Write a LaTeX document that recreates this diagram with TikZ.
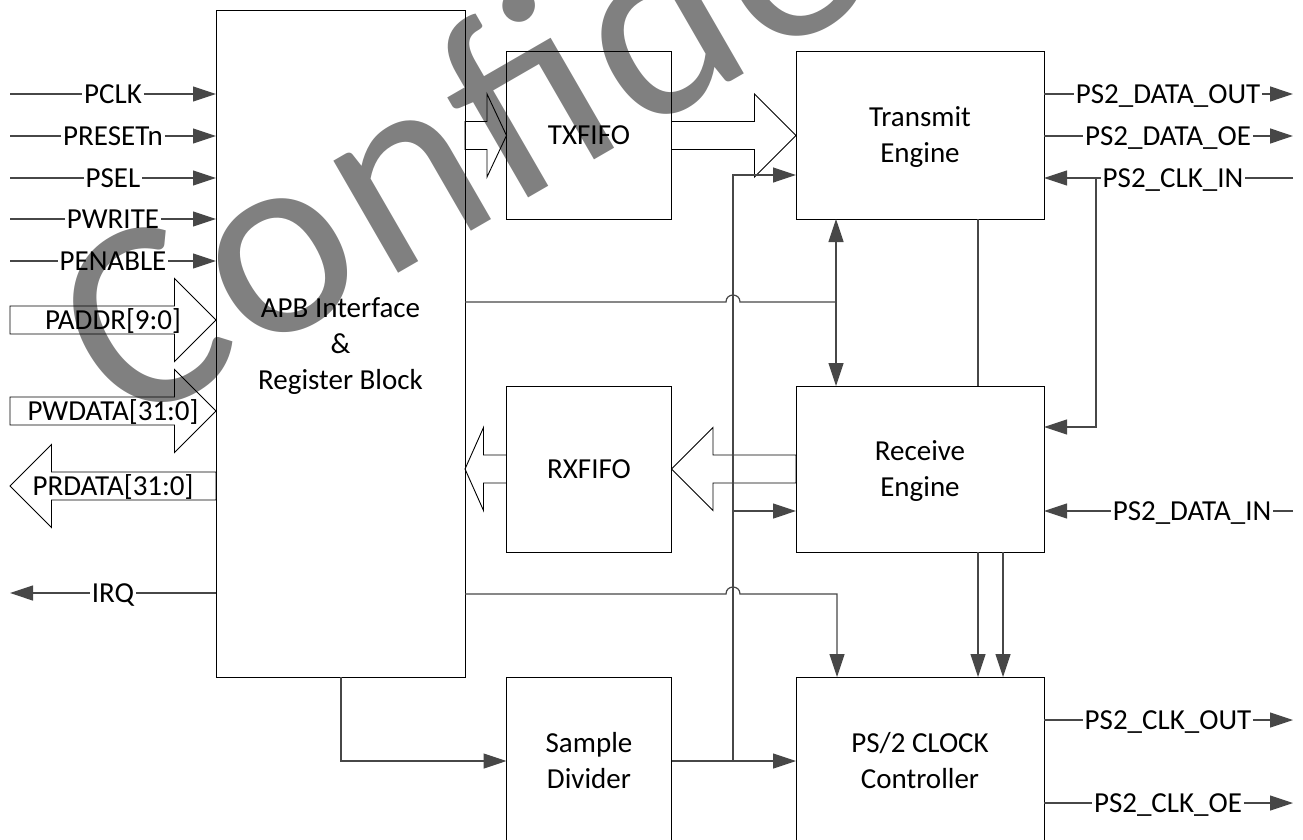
\documentclass[tikz,border=0pt]{standalone}
\usepackage{fontspec}
\setmainfont{Carlito}
\newfontfamily\wmfont[LetterSpace=2]{Carlito}
\usetikzlibrary{arrows.meta,calc}
\definecolor{wmgray}{RGB}{128,128,128}
\newcommand{\busarrow}[3]{%
  \draw[bus] ($#1+(0,-14)$) -- ($#2+({-1*(#3)},-14)$) -- ($#2+({-1*(#3)},-41.5)$) -- #2
    -- ($#2+({-1*(#3)},41.5)$) -- ($#2+({-1*(#3)},14)$) -- ($#1+(0,14)$) -- cycle;}
\begin{document}
\begin{tikzpicture}[x=1pt,y=-1pt,
  every node/.style={font=\fontsize{29}{36}\selectfont, inner sep=0pt, outer sep=0pt},
  blk/.style={draw=black, line width=1pt, align=center, text depth=0pt},
  one/.style={text height=18.7pt},
  two/.style={text height=54.7pt},
  three/.style={text height=90.7pt},
  lbl/.style={inner sep=2pt, text height=18.7pt, text depth=0pt},
  sig/.style={draw=black!72, line width=1.2pt},
  bus/.style={draw=black, line width=0.9pt},
  arr/.style={-{Triangle[length=23pt,width=15pt]}},
  arrtwo/.style={{Triangle[length=23pt,width=15pt]}-{Triangle[length=23pt,width=15pt]}}]
\useasboundingbox (0,0) rectangle (1303,840);
\clip (0,0) rectangle (1303,840);
% watermark
\node[font={\wmfont\fontsize{271}{271}\selectfont}, text=wmgray, rotate=30, anchor=base west] (wm) at (124,432) {Confidential};
% blocks
\node[blk, three, minimum width=249pt, minimum height=666pt] (apb) at (340.5,344) {APB Interface\\\&\\Register Block};
\node[blk, one, minimum width=165pt, minimum height=167pt] (txf) at (589,135.5) {TXFIFO};
\node[blk, two, minimum width=248pt, minimum height=167pt] (tx) at (920,135.5) {Transmit\\Engine};
\node[blk, one, minimum width=165pt, minimum height=166pt] (rxf) at (589,469) {RXFIFO};
\node[blk, two, minimum width=248pt, minimum height=166pt] (rx) at (920,469) {Receive\\Engine};
\node[blk, two, minimum width=165pt, minimum height=168pt] (sdiv) at (589,761) {Sample\\Divider};
\node[blk, two, minimum width=248pt, minimum height=168pt] (ctrl) at (920,761) {PS/2 CLOCK\\Controller};
% free ends
\coordinate (L) at (10,0);
\coordinate (R) at (1293,0);
% left inputs
\node[lbl] (pclk) at (113,94) {PCLK};
\node[lbl] (prst) at (113,136) {PRESETn};
\node[lbl] (psel) at (113,178) {PSEL};
\node[lbl] (pwr) at (113,219) {PWRITE};
\node[lbl] (pen) at (113,261) {PENABLE};
\foreach \n in {pclk,prst,psel,pwr,pen}{
  \draw[sig] (\n -| L) -- (\n.west);
  \draw[sig,arr] (\n.east) -- (\n.east -| apb.west);
}
% left buses
\coordinate (paddrc) at (113,320);
\coordinate (pwdatac) at (113,411);
\coordinate (prdatac) at (113,486);
\busarrow{(paddrc -| L)}{(paddrc -| apb.west)}{41.5}
\busarrow{(pwdatac -| L)}{(pwdatac -| apb.west)}{41.5}
\busarrow{(prdatac -| apb.west)}{(prdatac -| L)}{-41.5}
\node[lbl] (paddr) at (paddrc) {PADDR[9:0]};
\node[lbl] (pwdata) at (pwdatac) {PWDATA[31:0]};
\node[lbl] (prdata) at (prdatac) {PRDATA[31:0]};
% IRQ
\node[lbl] (irq) at (113,593) {IRQ};
\draw[sig] (irq -| apb.west) -- (irq.east);
\draw[sig,arr] (irq.west) -- (irq -| L);
% FIFO buses
\busarrow{(apb.east |- txf)}{(txf.west)}{19.5}
\busarrow{(txf.east)}{(tx.west |- txf)}{41.5}
\busarrow{(rx.west |- rxf)}{(rxf.east)}{-41.5}
\busarrow{(rxf.west)}{(apb.east |- rxf)}{-18.5}
% sample divider
\coordinate (sd) at (341,0);
\draw[sig,arr] (apb.south -| sd) -- (sdiv -| sd) -- (sdiv.west);
\draw[sig,arr] (sdiv.east) -- (ctrl.west);
\coordinate (vbt) at (733,175);
\coordinate (vbr) at (733,511);
\draw[sig,arr] (sdiv.east -| vbt) -- (vbt) -- (vbt -| tx.west);
\draw[sig,arr] (vbr) -- (vbr -| rx.west);
% register connections with hops
\coordinate (h1) at (836,302);
\draw[sig] (h1 -| apb.east) -- (726,302) .. controls (726,292.7) and (740,292.7) .. (740,302) -- (h1);
\draw[sig,arrtwo] (tx.south -| h1) -- (rx.north -| h1);
\coordinate (h2) at (837,594);
\draw[sig,arr] (h2 -| apb.east) -- (726,594) .. controls (726,584.7) and (740,584.7) .. (740,594) -- (h2) -- (h2 |- ctrl.north);
% engine to controller
\coordinate (t1) at (978,0);
\coordinate (t2) at (1003,0);
\draw[sig] (tx.south -| t1) -- (rx.north -| t1);
\draw[sig,arr] (rx.south -| t1) -- (ctrl.north -| t1);
\draw[sig,arr] (rx.south -| t2) -- (ctrl.north -| t2);
% right side
\node[lbl] (pdo) at (1168,94) {PS2\_DATA\_OUT};
\node[lbl] (pdoe) at (1168,136) {PS2\_DATA\_OE};
\node[lbl] (pci) at (1173,178) {PS2\_CLK\_IN};
\node[lbl] (pdi) at (1192,511) {PS2\_DATA\_IN};
\node[lbl] (pco) at (1168,720) {PS2\_CLK\_OUT};
\node[lbl] (pcoe) at (1168,803) {PS2\_CLK\_OE};
\draw[sig] (pdo -| tx.east) -- (pdo.west);
\draw[sig,arr] (pdo.east) -- (pdo -| R);
\draw[sig] (pdoe -| tx.east) -- (pdoe.west);
\draw[sig,arr] (pdoe.east) -- (pdoe -| R);
\draw[sig] (pci -| R) -- (pci.east);
\draw[sig,arr] (pci.west) -- (pci -| tx.east);
\coordinate (cj) at (1096,427);
\draw[sig,arr] (pci -| cj) -- (cj) -- (cj -| rx.east);
\draw[sig] (pdi -| R) -- (pdi.east);
\draw[sig,arr] (pdi.west) -- (pdi -| rx.east);
\draw[sig] (pco -| ctrl.east) -- (pco.west);
\draw[sig,arr] (pco.east) -- (pco -| R);
\draw[sig] (pcoe -| ctrl.east) -- (pcoe.west);
\draw[sig,arr] (pcoe.east) -- (pcoe -| R);
\end{tikzpicture}
\end{document}
